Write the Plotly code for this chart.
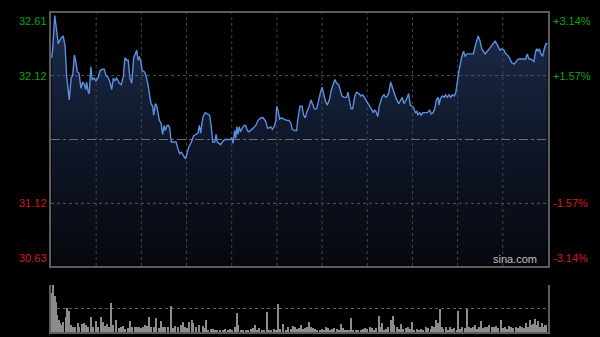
import plotly.graph_objects as go

# ---------------- data ----------------
PREV_CLOSE = 31.62
PRICE_MIN = 30.63
PRICE_MAX = 32.61
SESSION_MINUTES = 240
GRID_DIVISIONS = 11

minutes = [0.3, 0.8, 1.8, 2.8, 3.5, 4.7, 5.9, 6.8, 7.6, 8.8, 9.7, 10.5, 11.3, 12.1, 12.7, 13.5, 14.5, 15.3, 16.1, 16.8,
           17.2, 18.0, 18.5, 19.2, 19.9, 20.8, 21.7, 22.6, 23.7, 25.0, 25.7, 26.6, 27.4, 28.5, 29.3, 30.1, 30.9, 31.7, 33.0, 33.9,
           34.9, 35.7, 36.6, 37.3, 38.1, 39.0, 39.9, 40.7, 41.4, 42.0, 42.7, 43.5, 44.0, 45.1, 45.9, 46.7, 47.5, 48.3, 49.1, 49.6,
           50.4, 50.9, 51.7, 52.3, 53.1, 53.9, 54.6, 55.2, 56.0, 56.8, 57.3, 58.1, 59.3, 60.4, 61.3, 62.1, 62.9, 64.1, 64.9, 65.7,
           66.5, 67.8, 68.9, 70.0, 71.0, 71.6, 72.3, 72.9, 73.5, 74.5, 75.8, 76.6, 77.4, 78.1, 79.1, 79.7, 80.3, 81.1, 81.9, 82.7,
           83.9, 85.1, 86.4, 87.3, 87.9, 88.7, 89.2, 89.7, 90.3, 90.9, 91.6, 92.4, 93.2, 94.0, 94.8, 95.6, 96.4, 97.7, 98.9, 100.0,
           101.3, 102.5, 103.7, 104.5, 105.3, 106.1, 106.9, 107.7, 108.5, 109.0, 109.6, 110.4, 111.2, 112.5, 113.8, 114.9, 115.8, 116.5, 117.7, 118.6,
           119.1, 120.2, 121.2, 122.0, 122.8, 123.6, 124.7, 125.6, 126.4, 127.1, 128.3, 129.3, 130.0, 130.9, 131.7, 132.5, 133.4, 134.4, 135.4, 136.3,
           137.1, 138.0, 138.9, 139.6, 140.5, 141.6, 142.8, 143.4, 144.1, 144.9, 145.7, 146.7, 147.6, 148.6, 149.7, 150.5, 151.3, 152.1, 152.9, 154.0,
           155.0, 155.6, 156.3, 156.9, 157.8, 158.5, 159.8, 160.8, 161.6, 162.4, 163.2, 164.0, 164.8, 165.6, 166.7, 167.9, 168.9, 169.6, 170.5, 171.3,
           172.1, 172.7, 173.5, 174.3, 175.1, 175.9, 176.7, 177.2, 178.0, 178.8, 179.6, 180.5, 181.7, 182.9, 183.6, 184.5, 185.3, 186.1, 186.9, 187.4,
           188.0, 189.0, 189.8, 190.6, 191.4, 192.2, 193.0, 193.8, 194.6, 195.4, 196.2, 197.0, 198.4, 199.2, 200.0, 200.8, 202.1, 203.2, 204.0, 204.8,
           205.6, 206.3, 207.2, 208.0, 208.8, 209.6, 210.7, 211.7, 212.8, 213.6, 214.4, 215.2, 216.0, 216.8, 217.6, 218.7, 219.6, 220.5, 221.3, 222.5,
           223.6, 224.5, 225.7, 226.8, 228.1, 229.2, 230.0, 230.8, 231.6, 232.6, 233.2, 233.9, 234.5, 235.3, 235.8, 236.6, 237.4, 238.2, 239.0, 239.8]

prices = [32.26, 32.32, 32.59, 32.48, 32.37, 32.41, 32.43, 32.35, 32.11, 31.93, 32.10, 32.12, 32.28, 32.22, 32.15, 32.14, 32.02, 32.07, 32.05, 32.01,
          32.07, 31.99, 31.98, 32.19, 32.09, 32.10, 32.08, 32.10, 32.16, 32.17, 32.17, 32.12, 32.11, 32.07, 32.01, 32.10, 32.08, 32.10, 32.06, 32.05,
          32.11, 32.26, 32.24, 32.24, 32.10, 32.06, 32.26, 32.29, 32.32, 32.24, 32.27, 32.22, 32.16, 32.15, 32.12, 32.06, 31.98, 31.90, 31.88, 31.81,
          31.90, 31.89, 31.83, 31.77, 31.75, 31.66, 31.73, 31.69, 31.73, 31.73, 31.71, 31.60, 31.60, 31.60, 31.55, 31.51, 31.52, 31.49, 31.47, 31.51,
          31.56, 31.60, 31.65, 31.66, 31.67, 31.73, 31.67, 31.75, 31.80, 31.83, 31.82, 31.81, 31.72, 31.60, 31.60, 31.66, 31.60, 31.59, 31.58, 31.60,
          31.62, 31.62, 31.62, 31.63, 31.59, 31.69, 31.63, 31.72, 31.66, 31.72, 31.68, 31.71, 31.73, 31.73, 31.69, 31.68, 31.69, 31.71, 31.73, 31.77,
          31.79, 31.79, 31.76, 31.71, 31.71, 31.72, 31.70, 31.72, 31.76, 31.88, 31.85, 31.78, 31.79, 31.78, 31.77, 31.77, 31.75, 31.70, 31.69, 31.69,
          31.77, 31.88, 31.88, 31.81, 31.79, 31.84, 31.88, 31.93, 31.89, 31.86, 31.86, 31.94, 31.98, 32.03, 31.97, 31.92, 31.89, 31.93, 32.01, 32.06,
          32.09, 32.06, 32.05, 32.01, 31.96, 31.95, 31.95, 31.99, 31.93, 31.86, 31.86, 31.96, 31.99, 31.98, 31.96, 31.97, 31.95, 31.93, 31.90, 31.88,
          31.85, 31.83, 31.85, 31.84, 31.80, 31.88, 31.95, 31.97, 31.95, 31.96, 31.99, 32.07, 32.03, 31.98, 31.94, 31.90, 31.93, 31.95, 31.90, 31.92,
          31.95, 31.98, 31.89, 31.88, 31.87, 31.83, 31.84, 31.81, 31.83, 31.81, 31.83, 31.83, 31.83, 31.85, 31.82, 31.83, 31.86, 31.93, 31.95, 31.89,
          31.94, 31.96, 31.95, 31.97, 31.95, 31.97, 31.95, 31.97, 31.96, 31.98, 32.09, 32.16, 32.27, 32.31, 32.27, 32.29, 32.29, 32.29, 32.29, 32.35,
          32.40, 32.43, 32.39, 32.33, 32.31, 32.29, 32.31, 32.33, 32.35, 32.37, 32.39, 32.37, 32.35, 32.32, 32.33, 32.32, 32.29, 32.28, 32.26, 32.22,
          32.21, 32.23, 32.25, 32.25, 32.25, 32.25, 32.29, 32.25, 32.25, 32.24, 32.23, 32.30, 32.33, 32.31, 32.33, 32.29, 32.27, 32.33, 32.37, 32.37]

vol_minutes = [0.0, 1.1, 1.9, 2.4, 3.1, 3.7, 4.3, 5.3, 5.9, 7.1, 7.6, 8.5, 9.5, 10.5, 11.7, 12.9, 13.7, 15.1, 15.9, 16.9,
               17.7, 19.2, 20.1, 21.6, 22.7, 24.0, 25.0, 25.9, 26.9, 27.9, 29.1, 30.1, 31.4, 32.7, 33.7, 34.9, 35.9, 37.2, 38.1, 39.1,
               40.4, 41.4, 42.4, 43.3, 44.3, 45.5, 46.5, 47.5, 48.4, 49.7, 50.7, 52.0, 53.0, 54.2, 55.2, 56.5, 58.1, 59.1, 60.0, 61.3,
               62.6, 63.9, 64.9, 65.8, 66.8, 68.1, 68.7, 70.0, 71.3, 73.2, 73.9, 75.0, 76.0, 77.3, 78.1, 79.2, 80.3, 81.6, 82.9, 84.0,
               85.6, 86.4, 87.6, 88.9, 89.7, 90.4, 91.6, 92.9, 94.0, 95.3, 96.4, 97.4, 98.7, 99.6, 100.6, 101.7, 102.9, 104.2, 105.3, 106.4,
               107.7, 108.7, 109.5, 110.6, 112.2, 113.5, 114.6, 115.8, 116.7, 117.8, 118.6, 119.8, 120.6, 121.8, 122.8, 123.5, 124.6, 125.6, 126.7, 127.5,
               128.6, 129.9, 130.9, 131.8, 132.8, 133.8, 134.7, 135.7, 136.7, 138.0, 138.9, 140.2, 141.2, 142.1, 143.1, 144.1, 144.9, 146.0, 147.3, 148.4,
               149.6, 150.8, 151.8, 152.7, 154.0, 155.0, 156.0, 156.9, 158.2, 159.0, 160.0, 160.8, 161.8, 162.9, 164.0, 165.0, 165.8, 166.9, 167.9, 169.0,
               170.1, 171.3, 172.3, 173.4, 174.2, 175.3, 176.6, 177.6, 178.7, 179.8, 181.1, 182.2, 183.4, 184.1, 185.1, 185.9, 186.9, 187.8, 188.7, 189.4,
               190.6, 191.6, 192.7, 193.8, 194.8, 195.9, 196.5, 197.5, 198.6, 199.8, 200.7, 201.7, 202.7, 203.6, 204.7, 205.7, 206.8, 207.6, 208.8, 209.7,
               210.7, 211.7, 212.8, 213.9, 214.9, 216.0, 217.2, 218.1, 219.1, 220.1, 221.2, 222.1, 223.2, 224.4, 225.4, 226.5, 227.6, 228.6, 229.4, 230.5,
               231.3, 232.1, 232.9, 233.7, 234.5, 235.3, 236.1, 237.0, 237.7, 238.4, 239.0]

vol_values = [84, 100, 76, 65, 37, 26, 19, 16, 21, 33, 51, 44, 16, 12, 12, 19, 11, 18, 19, 16,
              12, 33, 12, 23, 12, 32, 21, 13, 18, 12, 62, 16, 26, 9, 12, 13, 6, 9, 23, 12,
              11, 11, 12, 9, 11, 16, 13, 32, 12, 12, 30, 9, 23, 12, 12, 11, 55, 9, 13, 12,
              16, 21, 12, 9, 21, 25, 19, 12, 16, 13, 9, 26, 5, 8, 8, 5, 4, 4, 4, 6,
              5, 6, 4, 11, 40, 16, 4, 4, 5, 5, 6, 9, 16, 4, 9, 5, 4, 42, 4, 5,
              6, 5, 60, 6, 18, 5, 11, 6, 13, 11, 6, 9, 16, 6, 9, 11, 21, 12, 9, 6,
              5, 4, 6, 5, 11, 9, 5, 6, 9, 6, 5, 18, 9, 4, 4, 5, 30, 5, 5, 4,
              5, 6, 9, 6, 11, 9, 5, 9, 35, 12, 19, 4, 6, 12, 26, 35, 16, 12, 6, 18,
              6, 9, 12, 6, 21, 5, 6, 5, 6, 5, 11, 9, 6, 13, 12, 25, 19, 49, 12, 6,
              11, 5, 12, 6, 9, 5, 44, 6, 11, 9, 50, 12, 9, 12, 16, 6, 12, 23, 9, 12,
              11, 16, 12, 11, 13, 9, 25, 9, 12, 6, 13, 11, 9, 12, 9, 13, 11, 9, 19, 12,
              25, 16, 18, 28, 16, 23, 12, 19, 11, 16, 16]

left_ticks = [32.61, 32.12, 31.12, 30.63]
left_labels = ["32.61", "32.12", "31.12", "30.63"]
right_labels = ["+3.14%", "+1.57%", "-1.57%", "-3.14%"]
grid_prices = [32.12, 31.12]

# ---------------- style ----------------
GREEN = "#16a016"
RED = "#d21c1c"
FRAME = "#5c5c5c"
GRID = "#454545"
FONT = "Arial, Liberation Sans, sans-serif"

X0, X1 = 51 / 600, 548 / 600
Y_MAIN = [(337 - 266) / 337, (337 - 13) / 337]
Y_VOL = [(337 - 332.3) / 337, (337 - 285) / 337]

fig = go.Figure()

# gradient area under the price line
fig.add_trace(go.Scatter(
    x=minutes, y=prices, mode="lines",
    line=dict(width=0, color="rgba(0,0,0,0)"),
    fill="tozeroy",
    fillgradient=dict(type="vertical", start=PRICE_MIN, stop=PRICE_MAX,
                      colorscale=[[0, "#06080d"], [0.5, "#0f1729"], [1, "#1d2d4d"]]),
    hoverinfo="skip", xaxis="x", yaxis="y",
))

# grid drawn over the fill (as in the reference)
step = SESSION_MINUTES / GRID_DIVISIONS
gx, gy = [], []
for k in range(1, GRID_DIVISIONS):
    gx += [k * step, k * step, None]
    gy += [PRICE_MIN, PRICE_MAX, None]
fig.add_trace(go.Scatter(x=gx, y=gy, mode="lines", line=dict(color=GRID, width=1, dash="dot"),
                         hoverinfo="skip", xaxis="x", yaxis="y"))
hx, hy = [], []
for p in grid_prices:
    hx += [0, SESSION_MINUTES, None]
    hy += [p, p, None]
fig.add_trace(go.Scatter(x=hx, y=hy, mode="lines", line=dict(color="#555555", width=1, dash="dot"),
                         hoverinfo="skip", xaxis="x", yaxis="y"))
fig.add_trace(go.Scatter(x=[0, SESSION_MINUTES], y=[PREV_CLOSE, PREV_CLOSE], mode="lines",
                         line=dict(color="#6e6e6e", width=1, dash="dashdot"),
                         hoverinfo="skip", xaxis="x", yaxis="y"))

# price line
fig.add_trace(go.Scatter(
    x=minutes, y=prices, mode="lines",
    line=dict(color="#5b8fe0", width=1.4),
    hoverinfo="skip", xaxis="x", yaxis="y",
))

# volume bars
fig.add_trace(go.Bar(
    x=vol_minutes, y=vol_values, width=0.55,
    marker=dict(color="#8c8c8c", line=dict(width=0)),
    hoverinfo="skip", xaxis="x2", yaxis="y2",
))

fig.update_layout(
    width=600, height=337,
    margin=dict(l=0, r=0, t=0, b=0),
    paper_bgcolor="#000000", plot_bgcolor="#000000",
    showlegend=False,
    bargap=0,
    xaxis=dict(domain=[X0, X1], range=[0, SESSION_MINUTES], showgrid=False,
               showticklabels=False, zeroline=False, ticks="",
               showline=True, linecolor=FRAME, linewidth=1.5, mirror=True),
    yaxis=dict(domain=Y_MAIN, range=[PRICE_MIN, PRICE_MAX], showgrid=False,
               showticklabels=False, zeroline=False, ticks="",
               showline=True, linecolor=FRAME, linewidth=1.5, mirror=True),
    xaxis2=dict(domain=[X0, X1], range=[0, SESSION_MINUTES], anchor="y2", showgrid=False,
                showticklabels=False, zeroline=False, ticks="",
                showline=True, linecolor=FRAME, linewidth=1.5, mirror=False),
    yaxis2=dict(domain=Y_VOL, range=[0, 100], anchor="x2", tickvals=[50, 99.5],
                showgrid=True, gridcolor="#5e5e5e", griddash="dot", gridwidth=1,
                showticklabels=False, zeroline=False, ticks="",
                showline=True, linecolor=FRAME, linewidth=1.5, mirror=True),
    font=dict(family=FONT),
)

annotations = []
for i, (v, lab, rlab) in enumerate(zip(left_ticks, left_labels, right_labels)):
    color = GREEN if v > PREV_CLOSE else RED
    if i == 0:
        yanchor = "top"
    elif i == len(left_ticks) - 1:
        yanchor = "bottom"
    else:
        yanchor = "middle"
    annotations.append(dict(x=X0, xref="paper", y=v, yref="y", text=lab, showarrow=False,
                            xanchor="right", yanchor=yanchor, xshift=-2,
                            font=dict(color=color, size=11, family=FONT)))
    annotations.append(dict(x=X1, xref="paper", y=v, yref="y", text=rlab, showarrow=False,
                            xanchor="left", yanchor=yanchor, xshift=3,
                            font=dict(color=color, size=11, family=FONT)))

annotations.append(dict(x=X1, xref="paper", y=PRICE_MIN, yref="y", text="sina.com", showarrow=False,
                        xanchor="right", yanchor="bottom", xshift=-9, yshift=-1,
                        font=dict(color="#c0c0c0", size=11, family=FONT)))
fig.update_layout(annotations=annotations)

fig.write_html("out.html")
